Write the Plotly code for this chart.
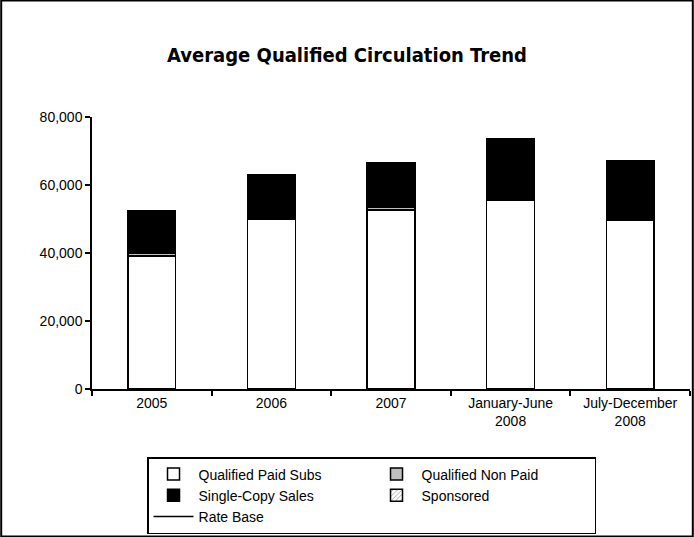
import plotly.graph_objects as go

categories = ["2005", "2006", "2007", "January-June<br>2008", "July-December<br>2008"]
paid_subs = [39100, 49900, 52700, 55600, 49700]
non_paid = [900, None, 800, None, None]
single_copy = [12400, 13100, 13000, 17900, 17400]
sponsored = [None, None, None, None, None]
rate_base = [None, None, None, None, None]
y_ticks = [0, 20000, 40000, 60000, 80000]
y_tick_text = ["0", "20,000", "40,000", "60,000", "80,000"]

fig = go.Figure()
line = dict(color="black", width=1.5)
fig.add_bar(x=categories, y=paid_subs, name="Qualified Paid Subs",
            marker=dict(color="white", line=line))
fig.add_bar(x=categories, y=non_paid, name="Qualified Non Paid",
            marker=dict(color="#c0c0c0", line=line))
fig.add_bar(x=categories, y=single_copy, name="Single-Copy Sales",
            marker=dict(color="black", line=line))
fig.add_bar(x=categories, y=sponsored, name="Sponsored",
            marker=dict(color="white", line=line,
                        pattern=dict(shape="/", fgcolor="black", size=4)))
fig.add_scatter(x=categories, y=rate_base, name="Rate Base", mode="lines",
                line=dict(color="black", width=1.5))

fig.update_layout(
    width=694, height=537,
    barmode="stack", bargap=0.6,
    plot_bgcolor="white", paper_bgcolor="white",
    margin=dict(l=92, r=4, t=117, b=148, autoexpand=False),
    font=dict(family="Liberation Sans, Arial", size=14, color="black"),
    title=dict(text="<b>Average Qualified Circulation Trend</b>",
               x=0.5, xanchor="center", y=0.898, yanchor="middle",
               font=dict(family="DejaVu Sans Condensed", size=20, color="black")),
    xaxis=dict(showline=True, linecolor="black", linewidth=1.5,
               ticks="outside", tickson="boundaries", ticklen=5,
               tickcolor="black", tickwidth=1.5, showgrid=False),
    yaxis=dict(range=[0, 80000], tickvals=y_ticks, ticktext=y_tick_text,
               showline=True, linecolor="black", linewidth=1.5,
               ticks="outside", ticklen=5, tickcolor="black", tickwidth=1.5,
               showgrid=False, zeroline=False),
    legend=dict(orientation="h", x=0.092, y=-0.25, xanchor="left", yanchor="top",
                bordercolor="black", borderwidth=1.5, traceorder="normal",
                entrywidth=168, entrywidthmode="pixels", itemwidth=40,
                font=dict(size=14), tracegroupgap=0),
    shapes=[dict(type="rect", xref="paper", yref="paper",
                 x0=-92/598 + 0.002, x1=1 + 4/598 - 0.002,
                 y0=-148/272 + 0.002, y1=1 + 117/272 - 0.002,
                 line=dict(color="black", width=2))],
)

fig.write_html("out.html")
